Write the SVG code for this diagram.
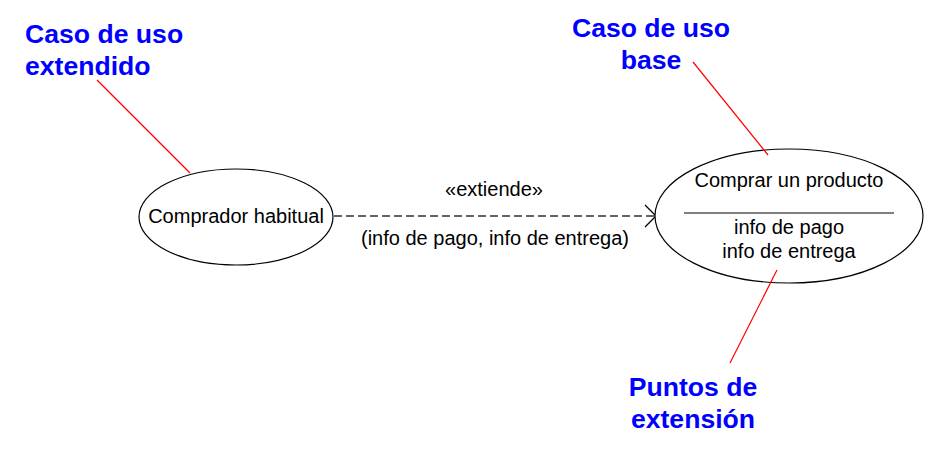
<svg xmlns="http://www.w3.org/2000/svg" width="949" height="451" viewBox="0 0 949 451">
<style>
.t{font-family:"Liberation Sans",Arial,sans-serif;font-size:20px;fill:#000;text-anchor:middle}
.lbl{font-family:"Liberation Sans",Arial,sans-serif;font-size:26.6px;font-weight:bold;fill:#0000ff;text-anchor:middle}
.uc{fill:#fff;stroke:#000;stroke-width:1.2}
.note{stroke:#ff0000;stroke-width:1.2;fill:none}
</style>
<rect width="949" height="451" fill="#fff"/>
<g id="connectors">
<line x1="334" y1="216" x2="655" y2="216" stroke="#333" stroke-width="1.3" stroke-dasharray="8 4"/>
<polyline points="645,205 656,216 645,227" fill="none" stroke="#000" stroke-width="1.3"/>
<text class="t" x="494" y="196">«extiende»</text>
<text class="t" x="495" y="245">(info de pago, info de entrega)</text>
</g>
<g id="comprador">
<ellipse class="uc" cx="236" cy="217" rx="97" ry="48"/>
<text class="t" x="236" y="223">Comprador habitual</text>
</g>
<g id="comprar">
<ellipse class="uc" cx="789" cy="216" rx="134" ry="67"/>
<text class="t" x="789" y="187">Comprar un producto</text>
<line x1="684" y1="213" x2="894" y2="213" stroke="#000" stroke-width="1.2"/>
<text class="t" x="789" y="234">info de pago</text>
<text class="t" x="789" y="258">info de entrega</text>
</g>
<g id="notes">
<line class="note" x1="97" y1="80" x2="190" y2="173"/>
<line class="note" x1="693" y1="62" x2="768" y2="155"/>
<line class="note" x1="777" y1="270" x2="730" y2="363"/>
<text class="lbl" x="25" y="43" style="text-anchor:start">Caso de uso</text>
<text class="lbl" x="25" y="75" style="text-anchor:start">extendido</text>
<text class="lbl" x="651" y="37">Caso de uso</text>
<text class="lbl" x="651" y="69">base</text>
<text class="lbl" x="693" y="396">Puntos de</text>
<text class="lbl" x="693" y="428">extensión</text>
</g>
</svg>
